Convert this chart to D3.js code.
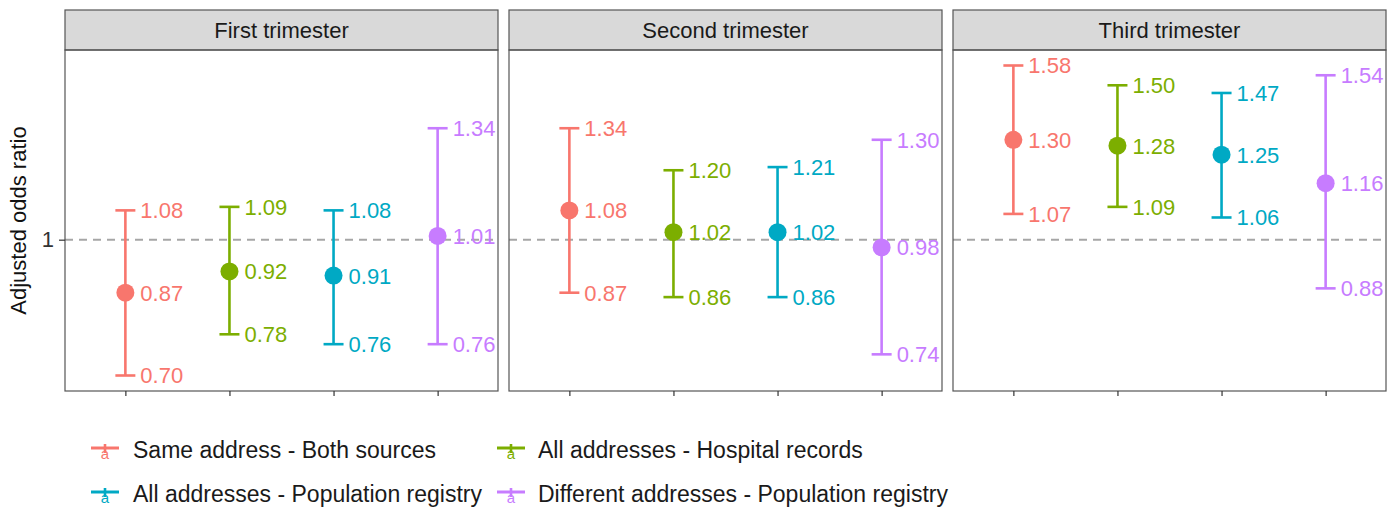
<!DOCTYPE html>
<html>
<head>
<meta charset="utf-8">
<script src="https://cdn.jsdelivr.net/npm/d3@7"></script>
<style>
  body { margin: 0; background: #fff; }
  text { font-family: "Liberation Sans", Arial, sans-serif; }
</style>
</head>
<body>
<div id="chart"></div>
<script>
// facet names
const trimesters = ['First trimester', 'Second trimester', 'Third trimester'];
// series (exposure definitions)
const seriesNames = [
  'Same address - Both sources',
  'All addresses - Hospital records',
  'All addresses - Population registry',
  'Different addresses - Population registry'
];
const seriesColors = ['#F8766D', '#7CAE00', '#00A9C4', '#C77CFF'];

// odds ratios, one array per trimester, in series order
const orFirst  = [0.87, 0.92, 0.91, 1.01];
const loFirst  = [0.70, 0.78, 0.76, 0.76];
const hiFirst  = [1.08, 1.09, 1.08, 1.34];
const orSecond = [1.08, 1.02, 1.02, 0.98];
const loSecond = [0.87, 0.86, 0.86, 0.74];
const hiSecond = [1.34, 1.20, 1.21, 1.30];
const orThird  = [1.30, 1.28, 1.25, 1.16];
const loThird  = [1.07, 1.09, 1.06, 0.88];
const hiThird  = [1.58, 1.50, 1.47, 1.54];
const yTicks = [1];

const svgW = 1395, svgH = 508;
const chart = d3.select('#chart').append('svg')
  .attr('width', svgW)
  .attr('height', svgH);

// panel geometry
const panelLeft = 65, panelW = 433, panelGap = 11;
const stripTop = 10, panelTop = 50, panelBottom = 391;

const table = [
  { name: trimesters[0], or: orFirst,  lo: loFirst,  hi: hiFirst },
  { name: trimesters[1], or: orSecond, lo: loSecond, hi: hiSecond },
  { name: trimesters[2], or: orThird,  lo: loThird,  hi: hiThird }
];

// shared log y scale with 5% expansion in log space
const allVals = table.flatMap(t => t.lo.concat(t.hi));
const lmin = Math.log(d3.min(allVals)), lmax = Math.log(d3.max(allVals));
const ex = (lmax - lmin) * 0.05;
const y = d3.scaleLog()
  .domain([Math.exp(lmin - ex), Math.exp(lmax + ex)])
  .range([panelBottom, panelTop]);

const color = d3.scaleOrdinal().domain(seriesNames).range(seriesColors);

table.forEach((t, i) => {
  const x0 = panelLeft + i * (panelW + panelGap);
  const x = d3.scalePoint()
    .domain(seriesNames)
    .range([x0, x0 + panelW])
    .padding(0.58);

  const g = chart.append('g');

  // panel background
  g.append('rect')
    .attr('x', x0).attr('y', panelTop)
    .attr('width', panelW).attr('height', panelBottom - panelTop)
    .attr('fill', '#fff');

  // strip
  g.append('rect')
    .attr('x', x0).attr('y', stripTop)
    .attr('width', panelW).attr('height', panelTop - stripTop)
    .attr('fill', '#d9d9d9')
    .attr('stroke', '#555').attr('stroke-width', 1.2);
  g.append('text')
    .attr('x', x0 + panelW / 2).attr('y', (stripTop + panelTop) / 2)
    .attr('dy', '0.35em')
    .attr('text-anchor', 'middle')
    .style('font-size', '22px')
    .attr('fill', '#1a1a1a')
    .text(t.name);

  // reference line at 1
  g.append('line')
    .attr('x1', x0).attr('x2', x0 + panelW)
    .attr('y1', y(1)).attr('y2', y(1))
    .attr('stroke', '#a6a6a6').attr('stroke-width', 2)
    .attr('stroke-dasharray', '8,6');

  const rows = seriesNames.map((s, k) => ({ s, or: t.or[k], lo: t.lo[k], hi: t.hi[k] }));

  // error bars
  rows.forEach(d => {
    const cx = x(d.s);
    const c = color(d.s);
    g.append('line')
      .attr('x1', cx).attr('x2', cx)
      .attr('y1', y(d.lo)).attr('y2', y(d.hi))
      .attr('stroke', c).attr('stroke-width', 2.6);
    [d.lo, d.hi].forEach(v => {
      g.append('line')
        .attr('x1', cx - 10).attr('x2', cx + 10)
        .attr('y1', y(v)).attr('y2', y(v))
        .attr('stroke', c).attr('stroke-width', 2.6);
    });
    g.append('circle')
      .attr('cx', cx).attr('cy', y(d.or))
      .attr('r', 9)
      .attr('fill', c);
    // value labels
    [d.hi, d.or, d.lo].forEach(v => {
      g.append('text')
        .attr('x', cx + 15).attr('y', y(v))
        .attr('dy', '0.36em')
        .style('font-size', '22px')
        .attr('fill', c)
        .text(v.toFixed(2));
    });
  });

  // border on top of everything
  g.append('rect')
    .attr('x', x0).attr('y', panelTop)
    .attr('width', panelW).attr('height', panelBottom - panelTop)
    .attr('fill', 'none')
    .attr('stroke', '#555').attr('stroke-width', 1.2);

  // x ticks (no labels)
  g.append('g')
    .attr('transform', `translate(0,${panelBottom})`)
    .call(d3.axisBottom(x).tickSize(5).tickFormat(''))
    .call(a => a.select('.domain').remove())
    .call(a => a.selectAll('line').attr('stroke', '#333').attr('stroke-width', 1.2));
});

// y axis
chart.append('g')
  .attr('transform', `translate(${panelLeft},0)`)
  .call(d3.axisLeft(y).tickValues(yTicks).tickSize(6).tickPadding(5).tickFormat(d3.format('d')))
  .call(a => a.select('.domain').remove())
  .call(a => a.selectAll('line').attr('stroke', '#333').attr('stroke-width', 1.2))
  .call(a => a.selectAll('text')
    .style('font-size', '22px')
    .style('font-family', '"Liberation Sans", Arial, sans-serif')
    .attr('fill', '#333'));

chart.append('text')
  .attr('transform', 'rotate(-90)')
  .attr('x', -(panelTop + panelBottom) / 2).attr('y', 26)
  .attr('text-anchor', 'middle')
  .style('font-size', '22px')
  .attr('fill', '#111')
  .text('Adjusted odds ratio');

// legend, filled by row
const legendPos = [
  { kx: 91, tx: 133, y: 450 },
  { kx: 497, tx: 538, y: 450 },
  { kx: 91, tx: 133, y: 494 },
  { kx: 497, tx: 538, y: 494 }
];
seriesNames.forEach((s, i) => {
  const p = legendPos[i];
  const c = color(s);
  const row = chart.append('g');
  row.append('line')
    .attr('x1', p.kx).attr('x2', p.kx + 28)
    .attr('y1', p.y - 2).attr('y2', p.y - 2)
    .attr('stroke', c).attr('stroke-width', 3);
  row.append('line')
    .attr('x1', p.kx + 14).attr('x2', p.kx + 14)
    .attr('y1', p.y - 6).attr('y2', p.y + 3)
    .attr('stroke', c).attr('stroke-width', 2.6);
  row.append('text')
    .attr('x', p.kx + 14).attr('y', p.y + 9)
    .attr('text-anchor', 'middle')
    .style('font-size', '15px')
    .attr('fill', c)
    .text('a');
  row.append('text')
    .attr('x', p.tx).attr('y', p.y)
    .attr('dy', '0.35em')
    .style('font-size', '23px')
    .attr('fill', '#1a1a1a')
    .text(s);
});
</script>
</body>
</html>
